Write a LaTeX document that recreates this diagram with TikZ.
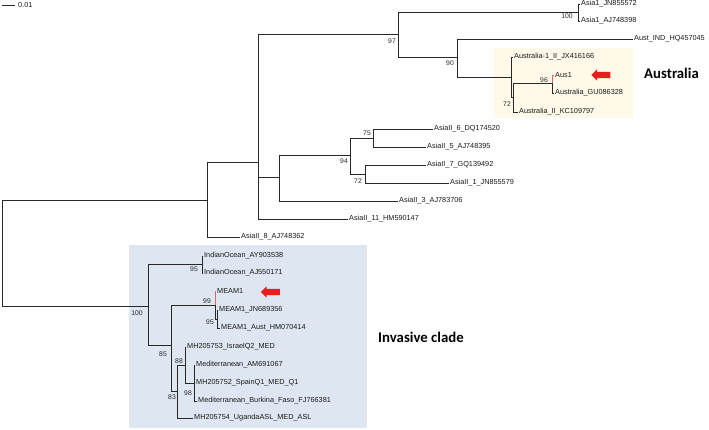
\documentclass[tikz,border=0pt]{standalone}
\usepackage{fontspec}
\setmainfont{Liberation Sans}
\newfontfamily\cladefont{Carlito}
\usetikzlibrary{shapes.arrows}
\definecolor{treeGray}{RGB}{40,40,40}
\definecolor{ausFill}{RGB}{254,249,232}
\definecolor{invFill}{RGB}{222,230,242}
\definecolor{markRed}{RGB}{232,30,30}
\definecolor{branchRed}{RGB}{226,100,100}
\tikzset{
    treeLine/.style={
        draw=treeGray, line width=0.9pt, line cap=rect
    },
    redLine/.style={
        treeLine, draw=branchRed
    },
    leafLabel/.style={
        anchor=west, inner sep=1pt, text=black!90, font=\fontsize{7.3}{8}\selectfont
    },
    bootLabel/.style={
        inner sep=0pt, text=black!85, font=\fontsize{6.8}{7}\selectfont
    },
    cladeTitle/.style={
        inner sep=0pt, text=black, font=\cladefont\bfseries\fontsize{14.8}{16}\selectfont
    },
    markArrow/.style={
        single arrow, fill=markRed, draw=none, inner sep=3pt, minimum height=19pt,
        single arrow head extend=2.5pt, shape border rotate=180
    }
}
\begin{document}
\begin{tikzpicture}[x=1pt, y=-1pt]
    \useasboundingbox (0,0) rectangle (709,429);

    % ── CLADE BOXES
    \fill[ausFill] (494,48) rectangle (633,118);
    \fill[invFill] (129,245) rectangle (367,428);

    % ── SCALE BAR
    \coordinate (scaleL) at (2,5);
    \coordinate (scaleR) at (15,5);
    \draw[treeGray, line width=0.9pt] (scaleL) -- (scaleR);
    \node[leafLabel] (scaleText) at (17,5) {0.01};

    % ── INTERNAL NODES
    \coordinate (nRoot) at (2,253);
    \coordinate (nA) at (207,200);
    \coordinate (nB) at (258,162);
    \coordinate (nC) at (398,34);
    \coordinate (nAsiaOne) at (578,12);
    \coordinate (nD) at (457,57);
    \coordinate (nE) at (511,77);
    \coordinate (nF) at (513,97);
    \coordinate (nP) at (552,83);
    \coordinate (nG) at (279,177);
    \coordinate (nH) at (350,155);
    \coordinate (nSix) at (373,138);
    \coordinate (nSeven) at (365,174);
    \coordinate (nI) at (148,306);
    \coordinate (nInd) at (202,264.5);
    \coordinate (nJ) at (171,345);
    \coordinate (nN) at (215,305);
    \coordinate (nO) at (217,319);
    \coordinate (nK) at (177,391);
    \coordinate (nL) at (185,365);
    \coordinate (nM) at (194,383);

    % ── LEAVES
    \node[leafLabel] (leafAsiaOneA) at (580,4) {Asia1\_JN855572};
    \node[leafLabel] (leafAsiaOneB) at (580,21) {Asia1\_AJ748398};
    \node[leafLabel] (leafAustInd) at (633,39) {Aust\_IND\_HQ457045};
    \node[leafLabel] (leafAusOne) at (513,57) {Australia-1\_II\_JX416166};
    \node[leafLabel] (leafAus1) at (554,75) {Aus1};
    \node[leafLabel] (leafAusGu) at (554,93) {Australia\_GU086328};
    \node[leafLabel] (leafAusII) at (518,112) {Australia\_II\_KC109797};
    \node[leafLabel] (leafAsiaSix) at (433,129) {AsiaII\_6\_DQ174520};
    \node[leafLabel] (leafAsiaFive) at (426,147) {AsiaII\_5\_AJ748395};
    \node[leafLabel] (leafAsiaSeven) at (426,165) {AsiaII\_7\_GQ139492};
    \node[leafLabel] (leafAsiaOneII) at (449,183) {AsiaII\_1\_JN855579};
    \node[leafLabel] (leafAsiaThree) at (398,201) {AsiaII\_3\_AJ783706};
    \node[leafLabel] (leafAsiaEleven) at (348,219) {AsiaII\_11\_HM590147};
    \node[leafLabel] (leafAsiaEight) at (240,237) {AsiaII\_8\_AJ748362};
    \node[leafLabel] (leafIndA) at (203,256) {IndianOcean\_AY903538};
    \node[leafLabel] (leafIndB) at (203,273) {IndianOcean\_AJ550171};
    \node[leafLabel] (leafMeam) at (216,291) {MEAM1};
    \node[leafLabel] (leafMeamJn) at (218,310) {MEAM1\_JN689356};
    \node[leafLabel] (leafMeamAu) at (220,328) {MEAM1\_Aust\_HM070414};
    \node[leafLabel] (leafIsrael) at (186,347) {MH205753\_IsraelQ2\_MED};
    \node[leafLabel] (leafMedA) at (195,365) {Mediterranean\_AM691067};
    \node[leafLabel] (leafSpain) at (195,383) {MH205752\_SpainQ1\_MED\_Q1};
    \node[leafLabel] (leafBurkina) at (197,401) {Mediterranean\_Burkina\_Faso\_FJ766381};
    \node[leafLabel] (leafUganda) at (193,418) {MH205754\_UgandaASL\_MED\_ASL};

    % ── BRANCHES: upper part
    \draw[treeLine] (nRoot) |- (nA);
    \draw[treeLine] (nRoot) |- (nI);
    \draw[treeLine] (nA) |- (nB);
    \draw[treeLine] (nA) |- (leafAsiaEight.west);
    \draw[treeLine] (nB) |- (nC);
    \draw[treeLine] (nB) |- (nG);
    \draw[treeLine] (nB) |- (leafAsiaEleven.west);
    \draw[treeLine] (nC) |- (nAsiaOne);
    \draw[treeLine] (nC) |- (nD);
    \draw[treeLine] (nAsiaOne) |- (leafAsiaOneA.west);
    \draw[treeLine] (nAsiaOne) |- (leafAsiaOneB.west);
    \draw[treeLine] (nD) |- (leafAustInd.west);
    \draw[treeLine] (nD) |- (nE);
    \draw[treeLine] (nE) |- (leafAusOne.west);
    \draw[treeLine] (nE) |- (nF);
    \draw[treeLine] (nF) |- (nP);
    \draw[treeLine] (nF) |- (leafAusII.west);
    \draw[redLine] (nP) |- (leafAus1.west);
    \draw[treeLine] (nP) |- (leafAusGu.west);
    \draw[treeLine] (nG) |- (nH);
    \draw[treeLine] (nG) |- (leafAsiaThree.west);
    \draw[treeLine] (nH) |- (nSix);
    \draw[treeLine] (nH) |- (nSeven);
    \draw[treeLine] (nSix) |- (leafAsiaSix.west);
    \draw[treeLine] (nSix) |- (leafAsiaFive.west);
    \draw[treeLine] (nSeven) |- (leafAsiaSeven.west);
    \draw[treeLine] (nSeven) |- (leafAsiaOneII.west);

    % ── BRANCHES: invasive clade
    \draw[treeLine] (nI) |- (nInd);
    \draw[treeLine] (nI) |- (nJ);
    \draw[treeLine] (nInd) |- (leafIndA.west);
    \draw[treeLine] (nInd) |- (leafIndB.west);
    \draw[treeLine] (nJ) |- (nN);
    \draw[treeLine] (nJ) |- (nK);
    \draw[redLine] (nN) |- (leafMeam.west);
    \draw[treeLine] (nN) |- (nO);
    \draw[treeLine] (nO) |- (leafMeamJn.west);
    \draw[treeLine] (nO) |- (leafMeamAu.west);
    \draw[treeLine] (nK) |- (nL);
    \draw[treeLine] (nK) |- (leafUganda.west);
    \draw[treeLine] (nL) |- (leafIsrael.west);
    \draw[treeLine] (nL) |- (nM);
    \draw[treeLine] (nM) |- (leafMedA.west);
    \draw[treeLine] (nM) -- (leafSpain.west);
    \draw[treeLine] (nM) |- (leafBurkina.west);

    % ── BOOTSTRAP VALUES
    \node[bootLabel] (bsAsiaOne) at (567,16) {100};
    \node[bootLabel] (bsC) at (392,41) {97};
    \node[bootLabel] (bsD) at (450,63) {90};
    \node[bootLabel] (bsP) at (544,80) {96};
    \node[bootLabel] (bsF) at (507,104) {72};
    \node[bootLabel] (bsSix) at (367,133) {75};
    \node[bootLabel] (bsH) at (344,161) {94};
    \node[bootLabel] (bsSeven) at (358,181) {72};
    \node[bootLabel] (bsInd) at (194,269) {95};
    \node[bootLabel] (bsN) at (207,301) {99};
    \node[bootLabel] (bsO) at (210,322) {95};
    \node[bootLabel] (bsI) at (137,313) {100};
    \node[bootLabel] (bsJ) at (163,354) {85};
    \node[bootLabel] (bsL) at (179,361) {88};
    \node[bootLabel] (bsM) at (188,393) {98};
    \node[bootLabel] (bsK) at (172,397) {83};

    % ── MARKERS AND CLADE NAMES
    \node[markArrow] (arrowAus) at (602.5,75) {};
    \node[markArrow] (arrowMeam) at (272,292) {};
    \node[cladeTitle, anchor=west] (titleAus) at (644,73) {Australia};
    \node[cladeTitle, anchor=west] (titleInv) at (378,337) {Invasive clade};
\end{tikzpicture}
\end{document}
